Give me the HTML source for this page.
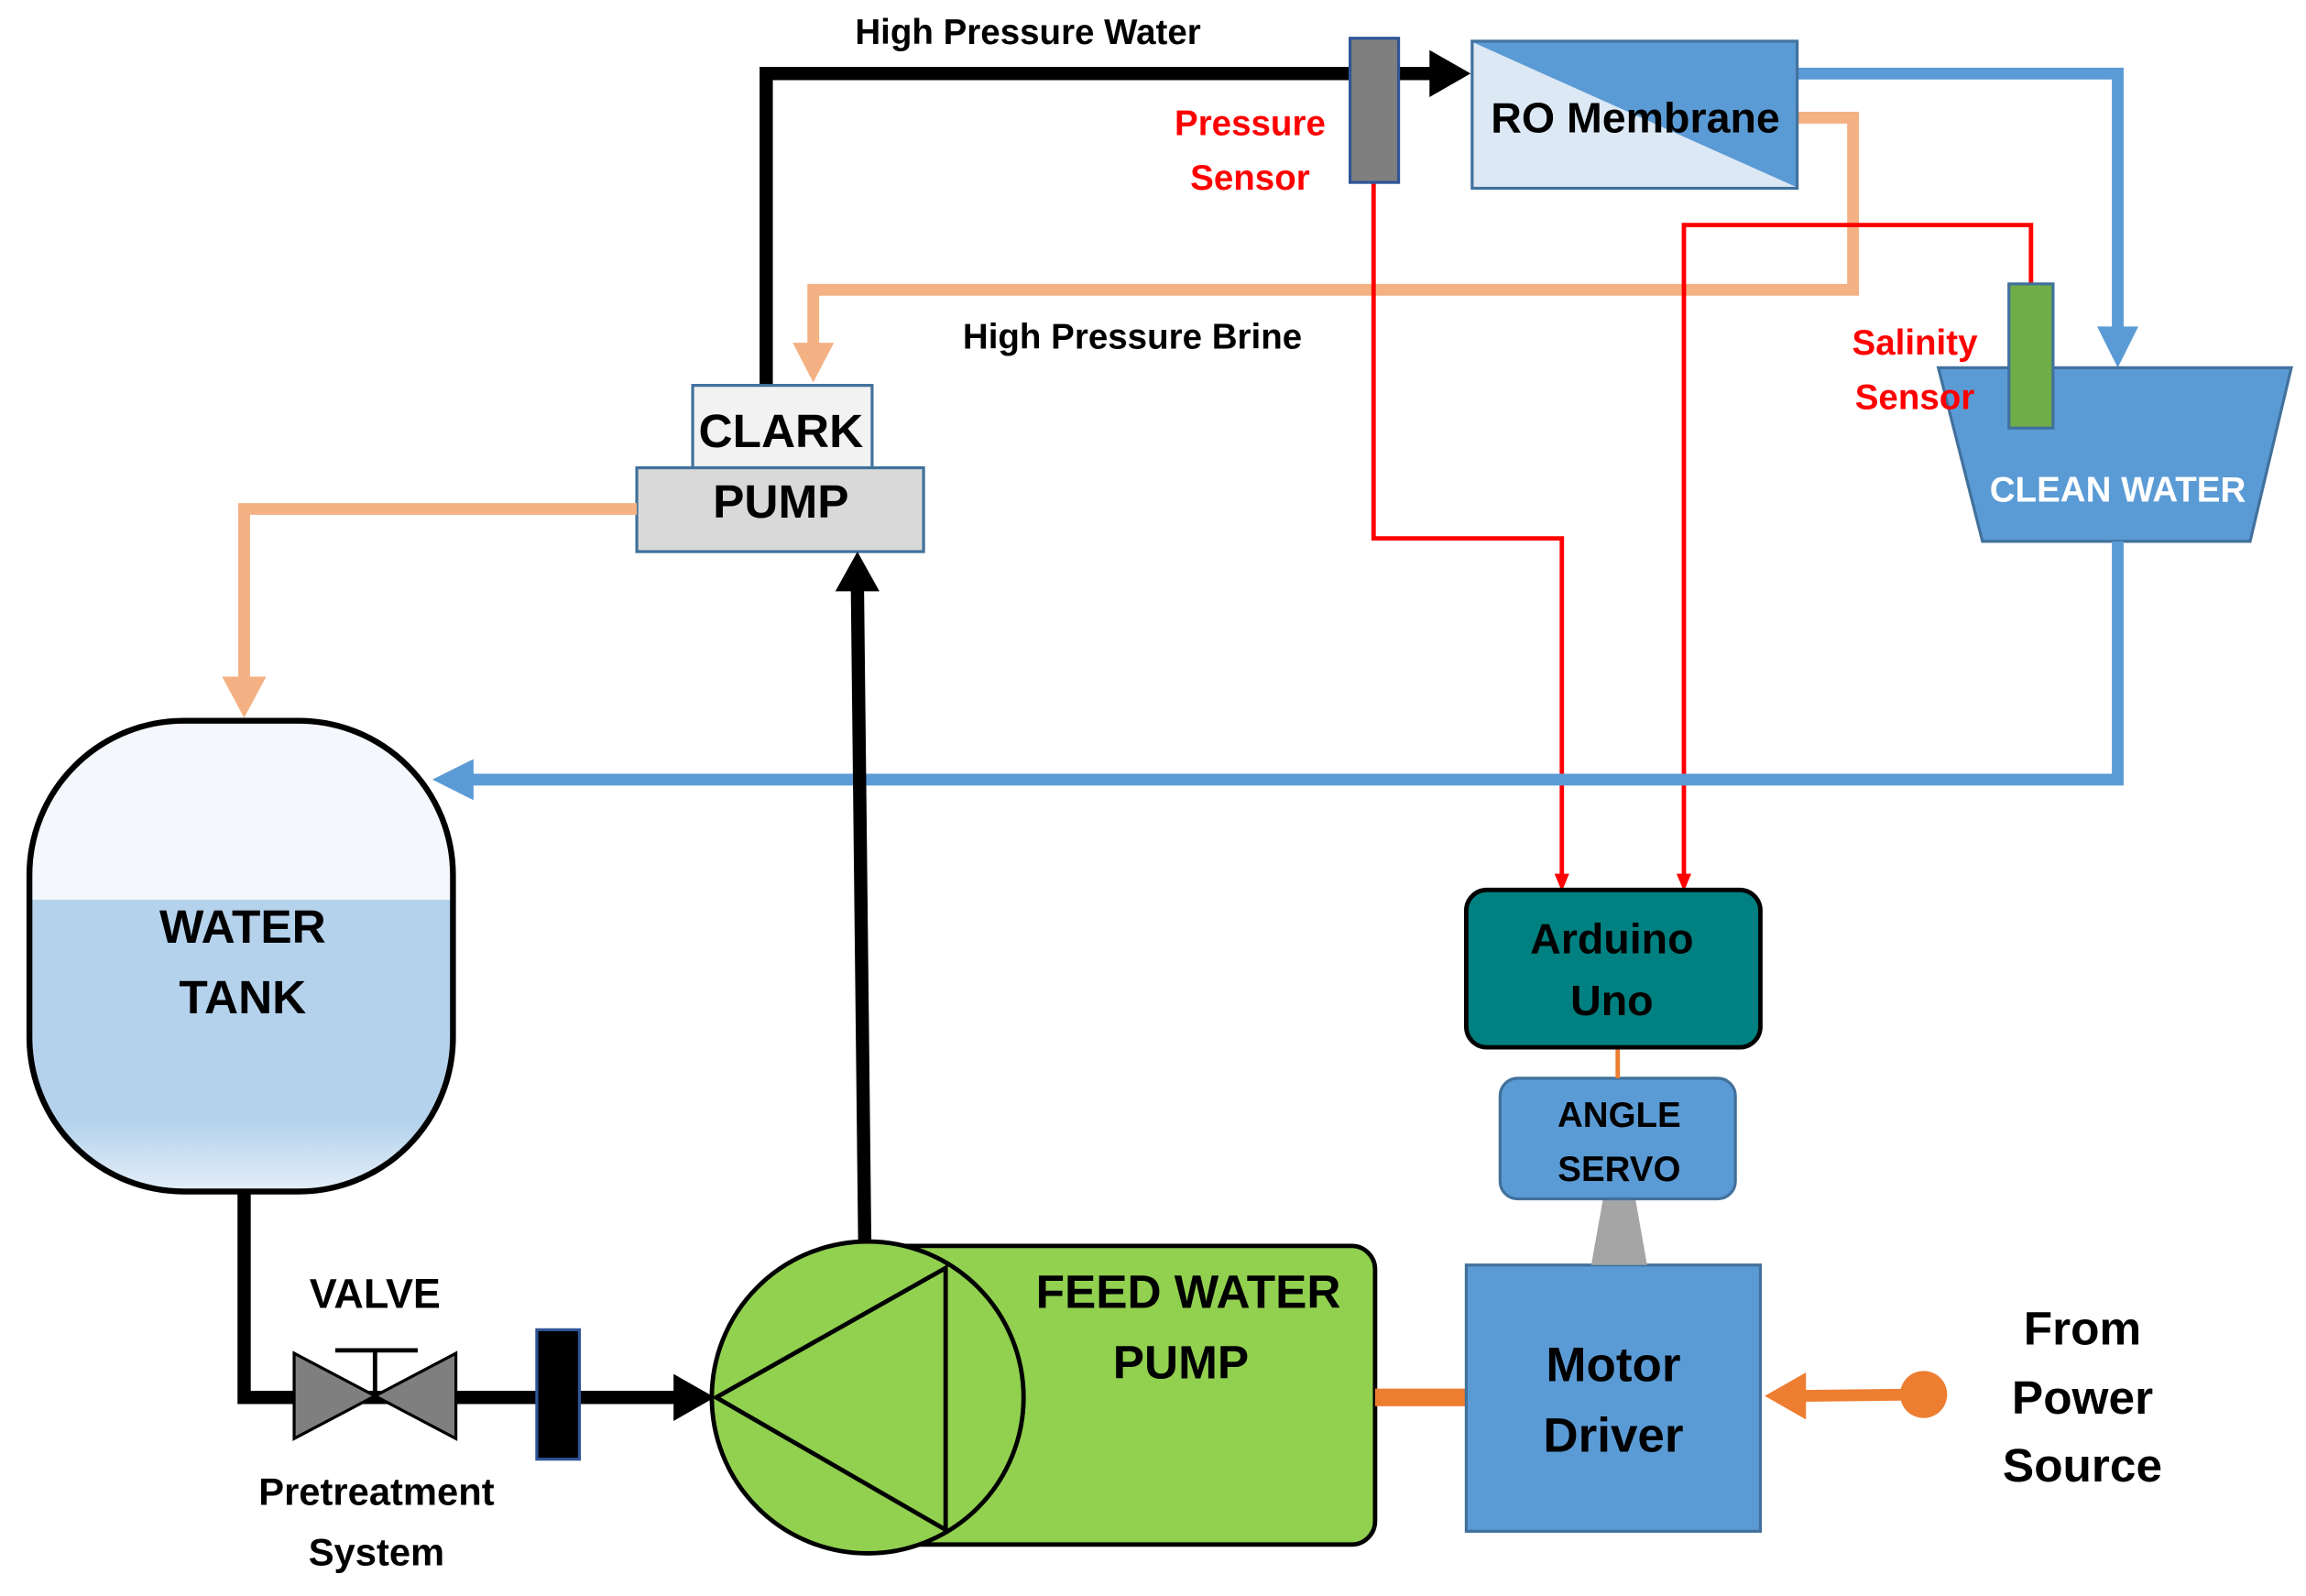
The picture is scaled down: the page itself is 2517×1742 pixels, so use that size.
<!DOCTYPE html>
<html><head><meta charset="utf-8"><style>
html,body{margin:0;padding:0;background:#fff;}
svg{display:block;}
text{font-family:"Liberation Sans Narrow","Liberation Sans",sans-serif;font-weight:bold;}
</style></head><body>
<svg width="2517" height="1742" viewBox="0 0 1568 1085" preserveAspectRatio="none" xmlns="http://www.w3.org/2000/svg">
<defs>
<linearGradient id="tank" x1="0" y1="0" x2="0" y2="1">
<stop offset="0" stop-color="#f4f8fc"/><stop offset="0.38" stop-color="#f4f8fc"/><stop offset="0.38" stop-color="#b4d2ec"/><stop offset="0.85" stop-color="#b4d2ec"/><stop offset="1" stop-color="#e4eef8"/>
</linearGradient>
</defs>
<!-- black high pressure line -->
<polyline points="521,262 521,50 918,50" fill="none" stroke="#000" stroke-width="9"/>
<line x1="950" y1="50" x2="975" y2="50" stroke="#000" stroke-width="9"/>
<polygon points="972,34 1000,50 972,66" fill="#000"/>
<!-- blue from RO to clean water -->
<polyline points="1222,50 1440,50 1440,228" fill="none" stroke="#5b9bd5" stroke-width="8"/>
<polygon points="1426,222 1454,222 1440,250" fill="#5b9bd5"/>
<!-- peach brine -->
<polyline points="1222,80 1260,80 1260,197 553,197 553,238" fill="none" stroke="#f4b183" stroke-width="8"/>
<polygon points="539,233 567,233 553,260" fill="#f4b183"/>
<!-- red sensor lines -->
<polyline points="934,124 934,366 1062,366 1062,598" fill="none" stroke="#f00" stroke-width="3"/>
<polygon points="1057,594 1067,594 1062,606" fill="#f00"/>
<polyline points="1381,193 1381,153 1145,153 1145,598" fill="none" stroke="#f00" stroke-width="3"/>
<polygon points="1140,594 1150,594 1145,606" fill="#f00"/>
<!-- pressure sensor -->
<rect x="918" y="26" width="33" height="98" fill="#7f7f7f" stroke="#2f5597" stroke-width="2"/>
<!-- RO membrane -->
<rect x="1001" y="28" width="221" height="100" fill="#dde8f5" stroke="#41719c" stroke-width="2"/>
<polygon points="1002,29 1221,29 1221,127" fill="#5b9bd5"/>
<text x="1112" y="90" font-size="29" text-anchor="middle" fill="#000">RO Membrane</text>
<text x="850" y="92" font-size="24" text-anchor="middle" fill="#f00">Pressure</text>
<text x="850" y="129" font-size="24" text-anchor="middle" fill="#f00">Sensor</text>
<text x="699" y="30" font-size="24" text-anchor="middle" fill="#000">High Pressure Water</text>
<text x="770" y="237" font-size="24" text-anchor="middle" fill="#000">High Pressure Brine</text>
<!-- clean water -->
<polygon points="1318,250 1558,250 1530,368 1348,368" fill="#5b9bd5" stroke="#41719c" stroke-width="2"/>
<text x="1440" y="341" font-size="24" text-anchor="middle" fill="#fff">CLEAN WATER</text>
<rect x="1366" y="193" width="30" height="98" fill="#70ad47" stroke="#41719c" stroke-width="2"/>
<text x="1302" y="241" font-size="24" text-anchor="middle" fill="#f00">Salinity</text>
<text x="1302" y="278" font-size="24" text-anchor="middle" fill="#f00">Sensor</text>
<!-- blue return -->
<polyline points="1440,368 1440,530 318,530" fill="none" stroke="#5b9bd5" stroke-width="8"/>
<polygon points="322,516 322,544 294,530" fill="#5b9bd5"/>
<!-- clark pump -->
<rect x="471" y="262" width="122" height="56" fill="#f2f2f2" stroke="#41719c" stroke-width="2"/>
<rect x="433" y="318" width="195" height="57" fill="#d9d9d9" stroke="#41719c" stroke-width="2"/>
<text x="531" y="304" font-size="32" text-anchor="middle" fill="#000">CLARK</text>
<text x="531" y="352" font-size="32" text-anchor="middle" fill="#000">PUMP</text>
<!-- peach to tank -->
<polyline points="433,346 166,346 166,466" fill="none" stroke="#f4b183" stroke-width="8"/>
<polygon points="151,460 181,460 166,488" fill="#f4b183"/>
<!-- water tank -->
<rect x="20" y="490" width="288" height="320" rx="105" ry="105" fill="url(#tank)" stroke="#000" stroke-width="4"/>
<text x="165" y="641" font-size="32" text-anchor="middle" fill="#000">WATER</text>
<text x="165" y="689" font-size="32" text-anchor="middle" fill="#000">TANK</text>
<!-- black bottom line -->
<polyline points="166,810 166,950 462,950" fill="none" stroke="#000" stroke-width="9"/>
<polygon points="458,934 486,950 458,966" fill="#000"/>
<!-- valve -->
<polygon points="200,920 200,978 255,949" fill="#7f7f7f" stroke="#000" stroke-width="2"/>
<polygon points="310,920 310,978 255,949" fill="#7f7f7f" stroke="#000" stroke-width="2"/>
<line x1="255" y1="949" x2="255" y2="918" stroke="#000" stroke-width="3"/>
<line x1="228" y1="918" x2="284" y2="918" stroke="#000" stroke-width="3"/>
<text x="255" y="889" font-size="28" text-anchor="middle" fill="#000">VALVE</text>
<rect x="365" y="904" width="29" height="88" fill="#000" stroke="#2f5597" stroke-width="2"/>
<text x="256" y="1023" font-size="26" text-anchor="middle" fill="#000">Pretreatment</text>
<text x="256" y="1064" font-size="26" text-anchor="middle" fill="#000">System</text>
<!-- feed pump -->
<line x1="588" y1="845" x2="583" y2="398" stroke="#000" stroke-width="9"/>
<polygon points="568,402 598,402 583,375" fill="#000"/>
<rect x="590" y="847" width="345" height="203" rx="16" fill="#92d050" stroke="#000" stroke-width="3"/>
<circle cx="590" cy="950" r="106" fill="#92d050" stroke="#000" stroke-width="3"/>
<polygon points="487,950 643,862 643,1040" fill="none" stroke="#000" stroke-width="3"/>
<text x="808" y="889" font-size="32" text-anchor="middle" fill="#000">FEED WATER</text>
<text x="803" y="937" font-size="32" text-anchor="middle" fill="#000">PUMP</text>
<!-- motor driver -->
<line x1="935" y1="950" x2="997" y2="950" stroke="#ed7d31" stroke-width="12"/>
<rect x="997" y="860" width="200" height="181" fill="#5b9bd5" stroke="#41719c" stroke-width="2"/>
<text x="1097" y="939" font-size="33" text-anchor="middle" fill="#000">Motor</text>
<text x="1097" y="987" font-size="33" text-anchor="middle" fill="#000">Driver</text>
<polygon points="1090,815 1112,815 1120,860 1082,860" fill="#a5a5a5"/>
<rect x="1020" y="733" width="160" height="82" rx="12" fill="#5b9bd5" stroke="#41719c" stroke-width="2"/>
<text x="1101" y="766" font-size="24" text-anchor="middle" fill="#000">ANGLE</text>
<text x="1101" y="803" font-size="24" text-anchor="middle" fill="#000">SERVO</text>
<line x1="1100" y1="712" x2="1100" y2="733" stroke="#ed7d31" stroke-width="3"/>
<rect x="997" y="605" width="200" height="107" rx="14" fill="#008080" stroke="#000" stroke-width="3"/>
<text x="1096" y="648" font-size="29" text-anchor="middle" fill="#000">Arduino</text>
<text x="1096" y="690" font-size="29" text-anchor="middle" fill="#000">Uno</text>
<!-- power -->
<line x1="1220" y1="949" x2="1308" y2="948" stroke="#ed7d31" stroke-width="8"/>
<polygon points="1228,933 1200,949 1228,965" fill="#ed7d31"/>
<circle cx="1308" cy="948" r="16" fill="#ed7d31"/>
<text x="1416" y="914" font-size="32" text-anchor="middle" fill="#000">From</text>
<text x="1416" y="961" font-size="32" text-anchor="middle" fill="#000">Power</text>
<text x="1416" y="1007" font-size="32" text-anchor="middle" fill="#000">Source</text>
</svg>
</body></html>
